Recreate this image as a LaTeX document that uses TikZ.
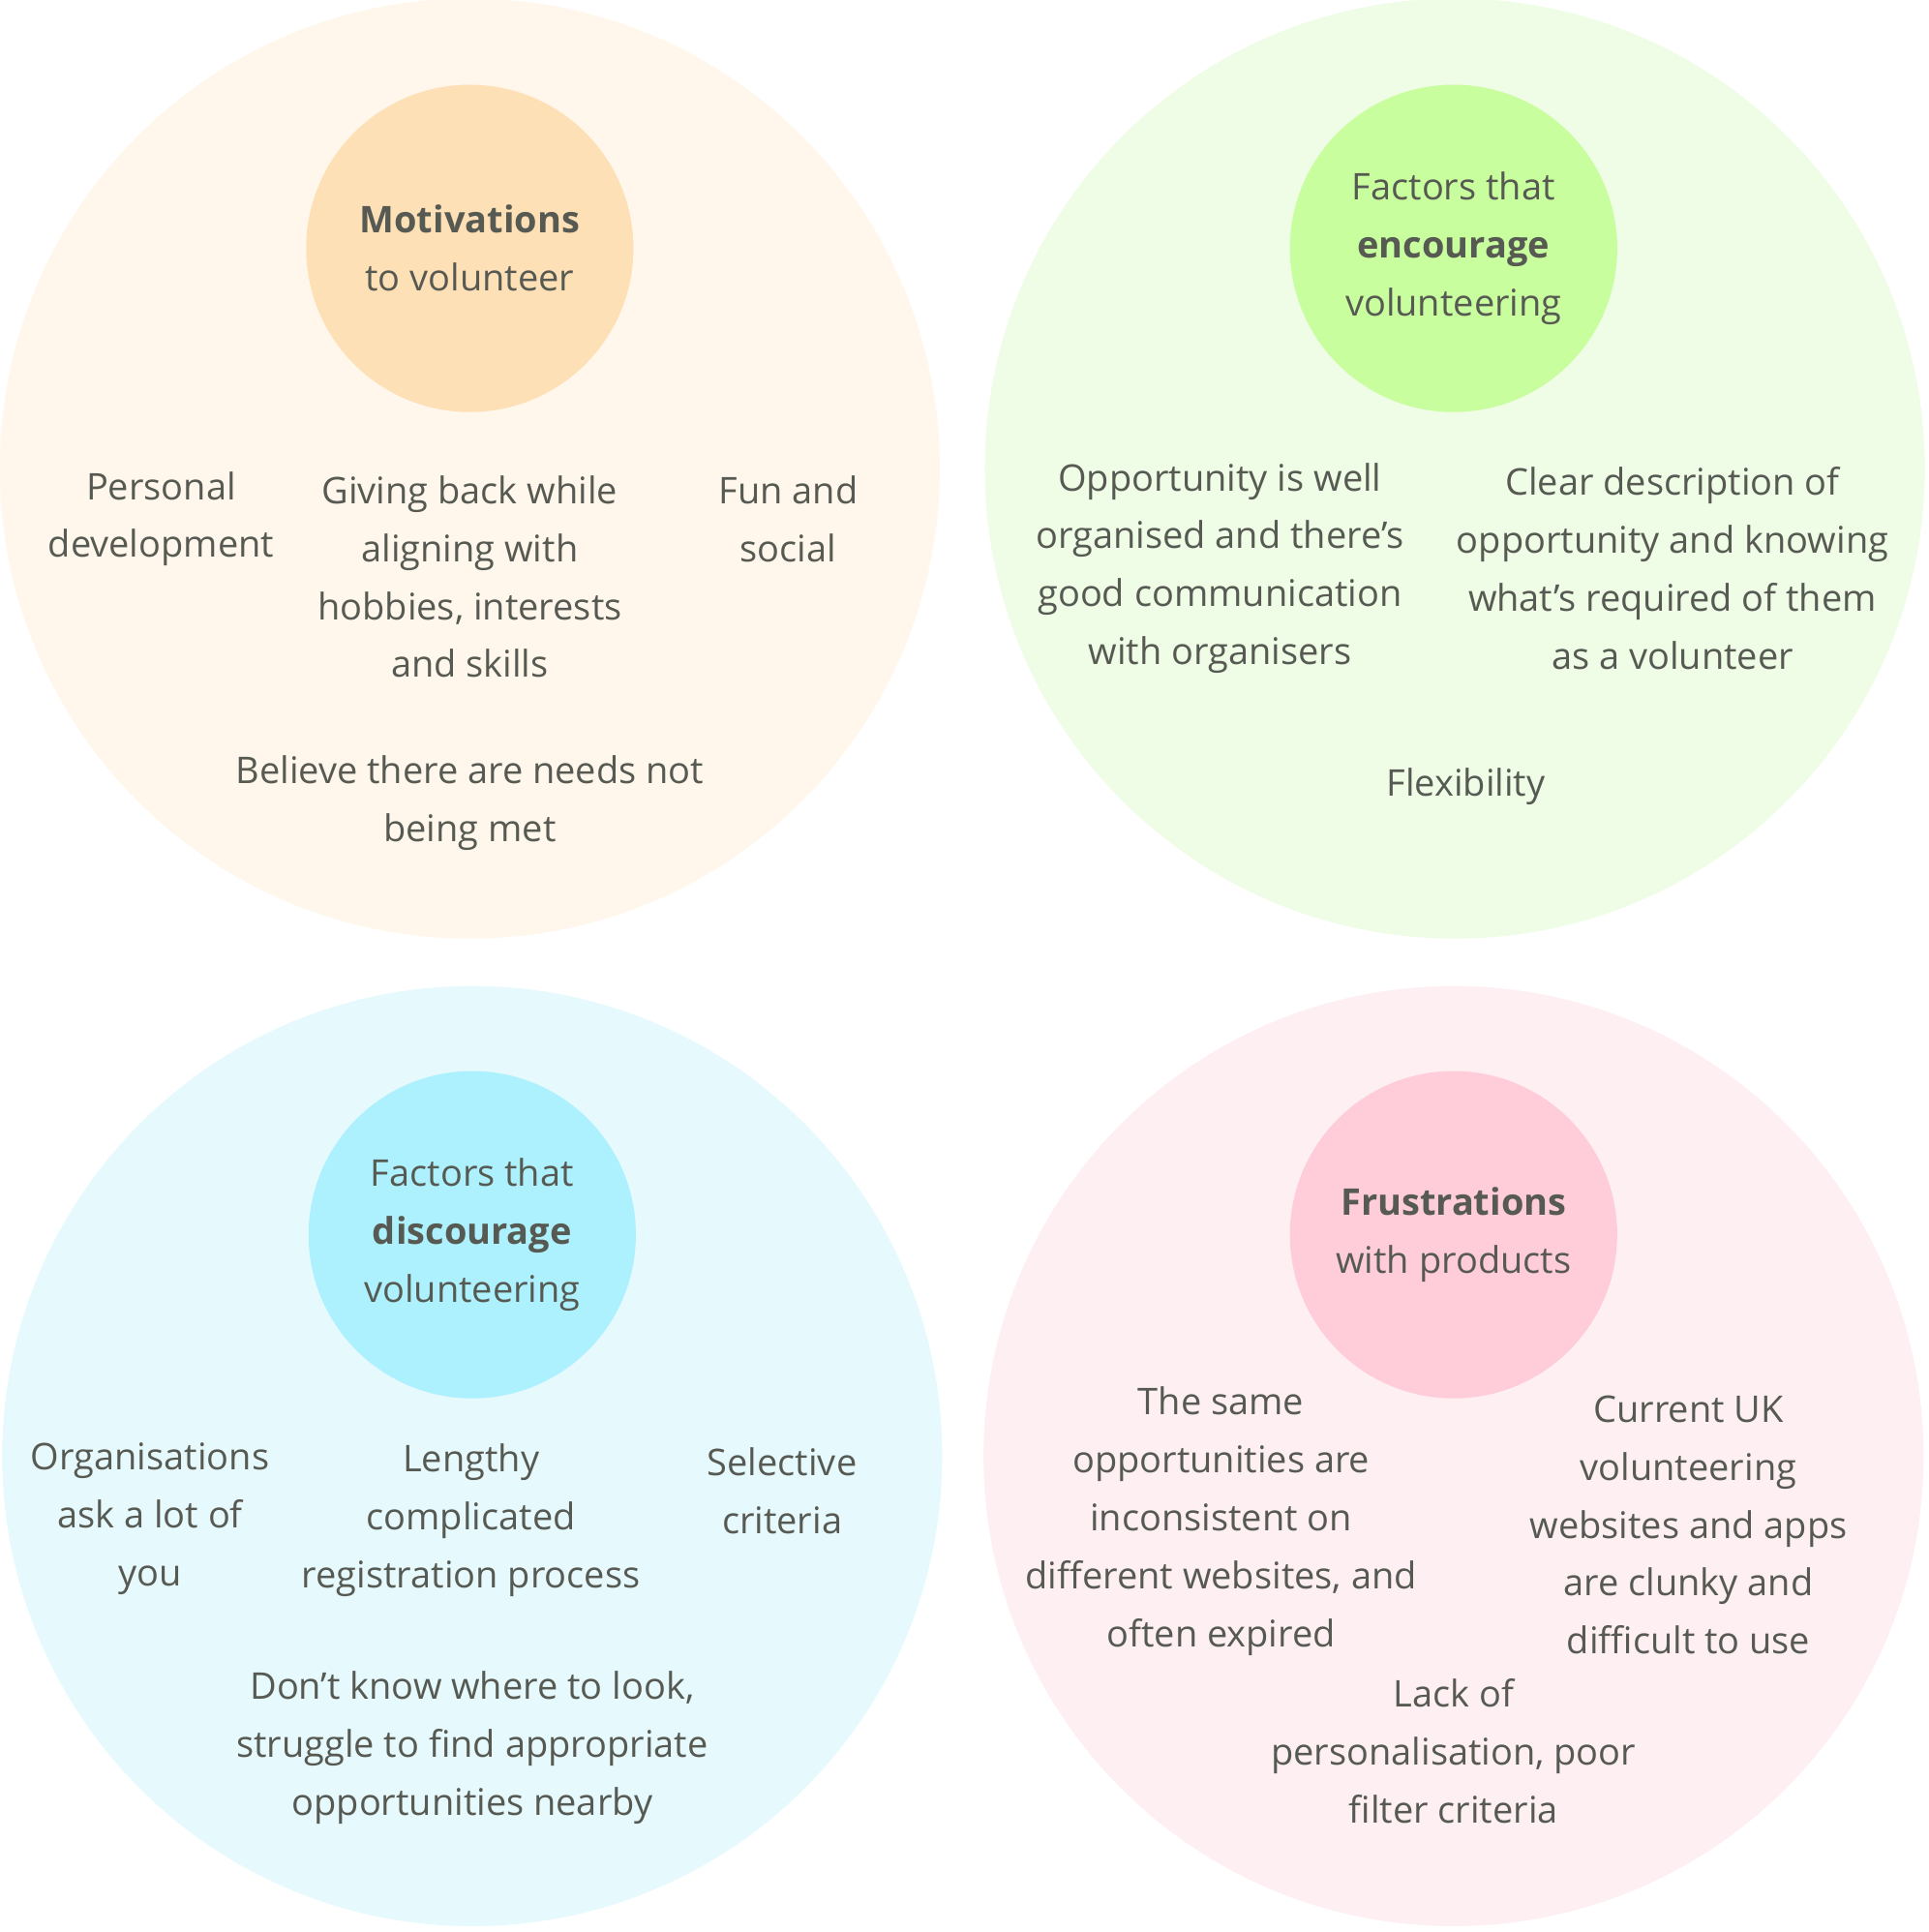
\documentclass[tikz,border=0pt]{standalone}
\usepackage{fontspec}
\setmainfont{Open Sans}
\definecolor{txt}{HTML}{575A52}
\definecolor{orgout}{HTML}{FFF7EC}
\definecolor{orgin}{HTML}{FEE0B6}
\definecolor{grnout}{HTML}{EFFCE6}
\definecolor{grnin}{HTML}{C8FE9E}
\definecolor{bluout}{HTML}{E6F9FD}
\definecolor{bluin}{HTML}{ACF1FD}
\definecolor{pnkout}{HTML}{FEEFF3}
\definecolor{pnkin}{HTML}{FECDD9}
\begin{document}
\begin{tikzpicture}[
  x=0.01cm,y=-0.01cm,
  outer/.style={circle,minimum size=7.64cm,inner sep=0pt},
  inner/.style={circle,minimum size=2.66cm,inner sep=0pt,align=center,text=txt,font=\fontsize{8.5}{13.4}\selectfont},
  lbl/.style={align=center,text=txt,font=\fontsize{8.5}{13.4}\selectfont}
]
\useasboundingbox (0,0) rectangle (1568,1571);
% --- Circles ---
\node[outer,fill=orgout] (MotOut) at (382,381) {};
\node[outer,fill=grnout] (EncOut) at (1183,381) {};
\node[outer,fill=bluout] (DisOut) at (384,1184) {};
\node[outer,fill=pnkout] (FruOut) at (1182,1184) {};
\node[inner,fill=orgin] (Mot) at (382,202) {\textbf{Motivations}\\to volunteer};
\node[inner,fill=grnin] (Enc) at (1182,202) {Factors that\\\textbf{encourage}\\volunteering};
\node[inner,fill=bluin] (Dis) at (384,1004) {Factors that\\\textbf{discourage}\\volunteering};
\node[inner,fill=pnkin] (Fru) at (1182,1004) {\textbf{Frustrations}\\with products};

% motivations
\node[lbl] (m1) at (131,422) {Personal\\development};
\node[lbl] (m2) at (382,469) {Giving back while\\aligning with\\hobbies, interests\\and skills};
\node[lbl] (m3) at (641,422) {Fun and\\social};
\node[lbl] (m4) at (382,653) {Believe there are needs not\\being met};

% encourage
\node[lbl] (e1) at (992,462) {Opportunity is well\\organised and there's\\good communication\\with organisers};
\node[lbl] (e2) at (1360,462) {Clear description of\\opportunity and knowing\\what's required of them\\as a volunteer};
\node[lbl] (e3) at (1192,640) {Flexibility};

% discourage
\node[lbl] (d1) at (122,1235) {Organisations\\ask a lot of\\you};
\node[lbl] (d2) at (383,1236) {Lengthy\\complicated\\registration process};
\node[lbl] (d3) at (636,1212) {Selective\\criteria};
\node[lbl] (d4) at (384,1421) {Don’t know where to look,\\struggle to find appropriate\\opportunities nearby};

% frustrations
\node[lbl] (f1) at (993,1237) {The same\\opportunities are\\inconsistent on\\different websites, and\\often expired};
\node[lbl] (f2) at (1373,1240) {Current UK\\volunteering\\websites and apps\\are clunky and\\difficult to use};
\node[lbl] (f3) at (1182,1424) {Lack of\\personalisation, poor\\filter criteria};
\end{tikzpicture}
\end{document}
